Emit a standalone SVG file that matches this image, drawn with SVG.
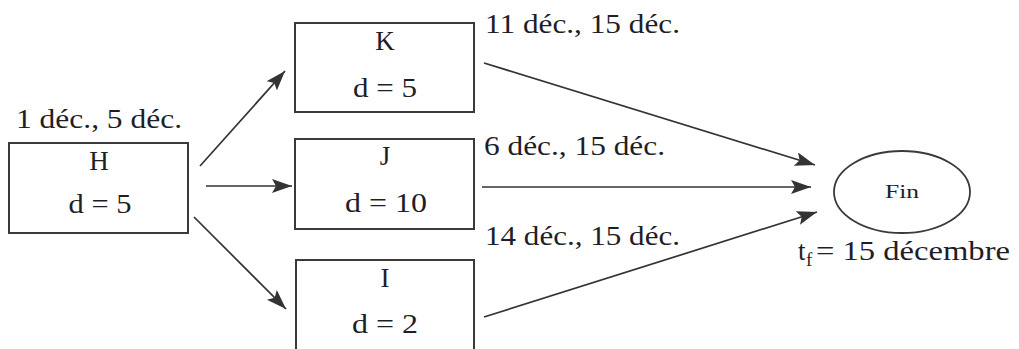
<svg xmlns="http://www.w3.org/2000/svg" width="1019" height="349" viewBox="0 0 1019 349">
<style>
.box{fill:#fff;stroke:#3a3a3a;stroke-width:2}
.t{font-family:"Liberation Serif","Times New Roman",serif;font-size:27px;fill:#1e1e28}
.c{text-anchor:middle}
.edge{stroke:#333;stroke-width:1.7;fill:none;marker-end:url(#ah)}
</style>
<defs>
<marker id="ah" markerWidth="22" markerHeight="16" refX="20" refY="7" orient="auto" markerUnits="userSpaceOnUse">
<path d="M0,0 L20,7 L0,14 L4,7 Z" fill="#333"/>
</marker>
</defs>
<rect width="1019" height="349" fill="#fff"/>
<g id="connectors">
<line class="edge" x1="200" y1="166" x2="285" y2="71"/>
<line class="edge" x1="206" y1="186" x2="292" y2="186"/>
<line class="edge" x1="194" y1="217" x2="286" y2="309"/>
<line class="edge" x1="484" y1="63" x2="815" y2="165"/>
<line class="edge" x1="482" y1="187" x2="811" y2="187"/>
<line class="edge" x1="484" y1="317" x2="817" y2="212"/>
</g>
<g id="node-H">
<rect class="box" x="9" y="143" width="179" height="90"/>
<text class="t" x="16" y="128" textLength="166" lengthAdjust="spacingAndGlyphs">1 déc., 5 déc.</text>
<text class="t c" x="99" y="170">H</text>
<text class="t c" x="100" y="213" textLength="63" lengthAdjust="spacingAndGlyphs">d = 5</text>
</g>
<g id="node-K">
<rect class="box" x="295" y="23" width="179" height="89"/>
<text class="t c" x="385" y="50">K</text>
<text class="t c" x="385" y="97" textLength="64" lengthAdjust="spacingAndGlyphs">d = 5</text>
<text class="t" x="485" y="33" textLength="195" lengthAdjust="spacingAndGlyphs">11 déc., 15 déc.</text>
</g>
<g id="node-J">
<rect class="box" x="295" y="139" width="179" height="90"/>
<text class="t c" x="385" y="165">J</text>
<text class="t c" x="386" y="212" textLength="82" lengthAdjust="spacingAndGlyphs">d = 10</text>
<text class="t" x="484" y="155" textLength="181" lengthAdjust="spacingAndGlyphs">6 déc., 15 déc.</text>
</g>
<g id="node-I">
<rect class="box" x="296" y="260" width="178" height="95"/>
<text class="t c" x="385" y="287">I</text>
<text class="t c" x="385" y="333" textLength="66" lengthAdjust="spacingAndGlyphs">d = 2</text>
<text class="t" x="485" y="245" textLength="195" lengthAdjust="spacingAndGlyphs">14 déc., 15 déc.</text>
</g>
<g id="node-Fin">
<ellipse cx="902" cy="192" rx="68" ry="41" fill="#fff" stroke="#3a3a3a" stroke-width="1.8"/>
<text class="t c" x="902" y="198" style="font-size:19px" textLength="34" lengthAdjust="spacingAndGlyphs">Fin</text>
<text class="t" x="798" y="260">t</text>
<text class="t" x="806" y="266" style="font-size:19px">f</text>
<text class="t" x="816" y="260" textLength="194" lengthAdjust="spacingAndGlyphs">= 15 décembre</text>
</g>
</svg>
